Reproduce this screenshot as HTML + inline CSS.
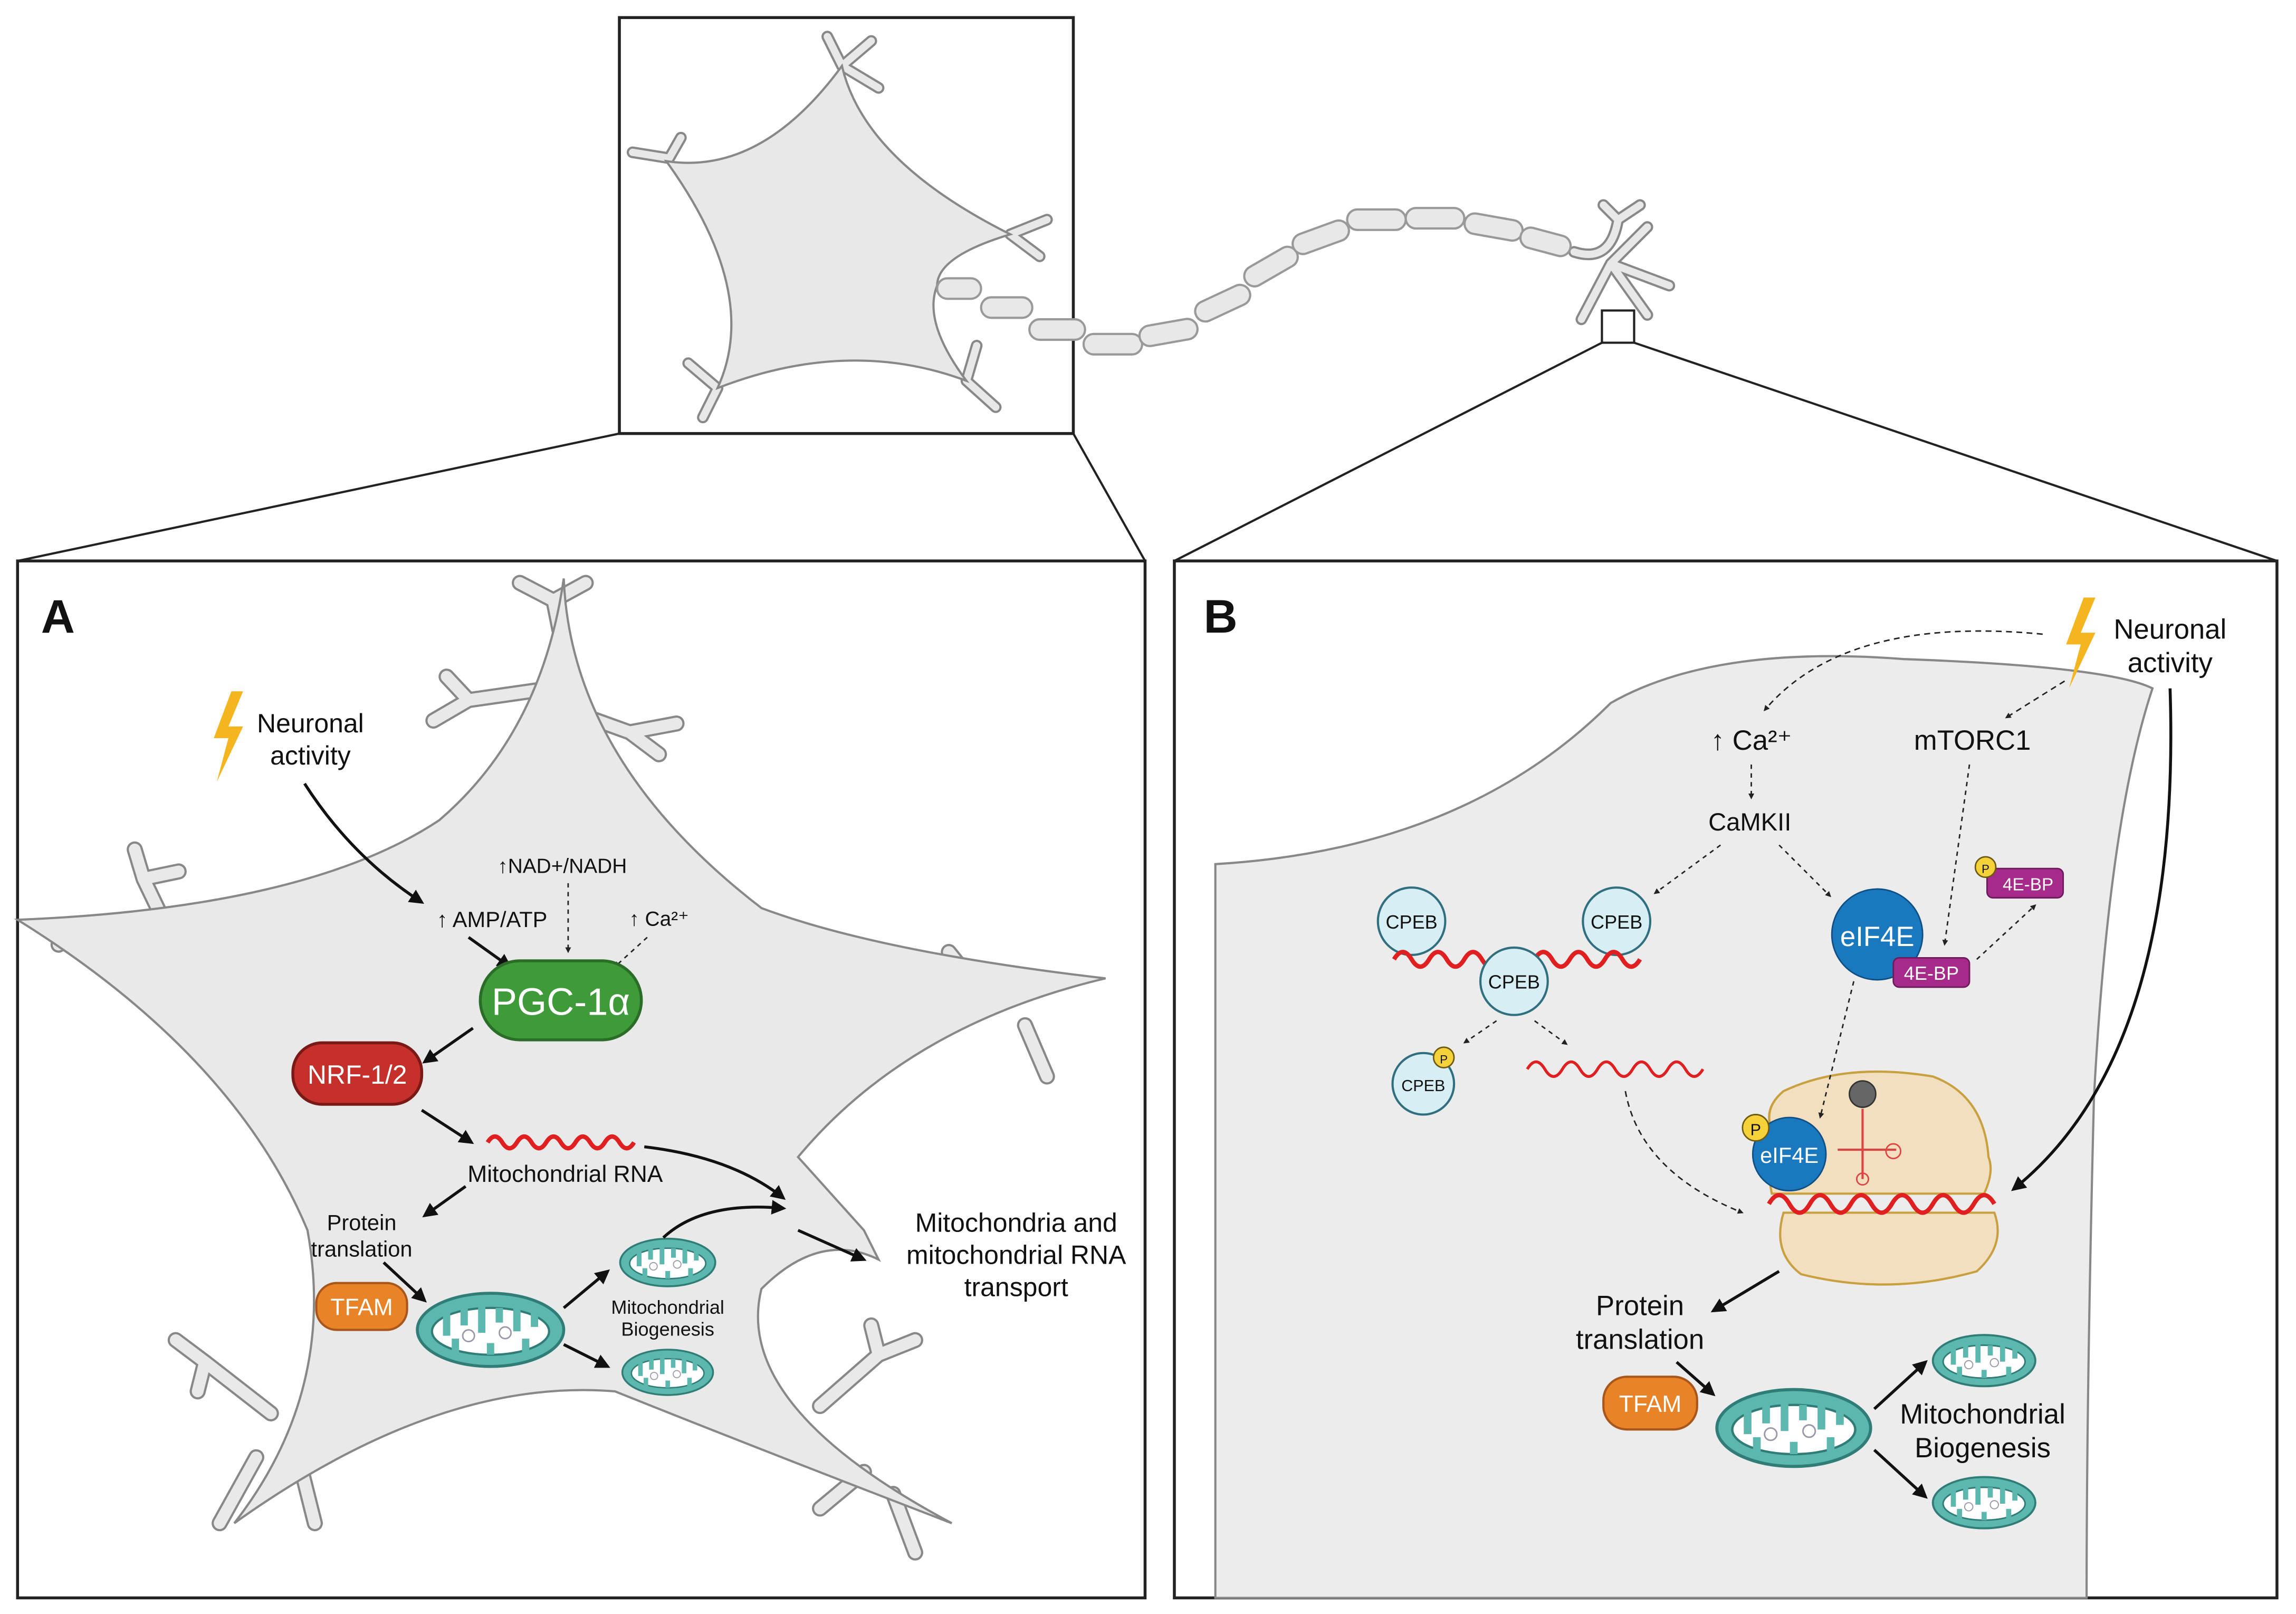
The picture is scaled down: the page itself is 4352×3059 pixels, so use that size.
<!DOCTYPE html>
<html><head><meta charset="utf-8"><style>
html,body{margin:0;padding:0;background:#fff}
svg{display:block}
text{font-family:"Liberation Sans",sans-serif;fill:#111}
</style></head><body>
<svg width="4352" height="3059" viewBox="0 0 1568 1102" preserveAspectRatio="none" xmlns="http://www.w3.org/2000/svg">
<defs>
<marker id="ah" viewBox="0 0 10 10" refX="8" refY="5" markerWidth="5" markerHeight="5" orient="auto"><path d="M0,0L10,5L0,10z" fill="#111"/></marker>
<marker id="ahs" viewBox="0 0 10 10" refX="8" refY="5" markerWidth="4" markerHeight="4" orient="auto"><path d="M0,0L10,5L0,10z" fill="#222"/></marker>
<g id="mito">
<ellipse cx="0" cy="0" rx="50" ry="25" fill="#5cb8ae" stroke="#2f7d76" stroke-width="2"/>
<ellipse cx="0" cy="1" rx="40" ry="16" fill="#fff" stroke="#2f7d76" stroke-width="1.5"/>
<path d="M-30,-14v18M-18,-15v12M-6,-16v18M6,-15v10M18,-15v16M30,-14v12M-24,16v-10M0,17v-8M24,16v-10" stroke="#5cb8ae" stroke-width="5"/>
<circle cx="-15" cy="4" r="4" fill="#fff" stroke="#99a" /><circle cx="10" cy="2" r="4" fill="#fff" stroke="#99a"/>
</g>
<path id="wave" d="M0,0 q5,-8 10,0 t10,0 t10,0 t10,0 t10,0 t10,0 t10,0 t10,0 t10,0 t10,0" fill="none" stroke="#e02020" stroke-width="3"/>
<path id="brA" d="M382,430 L378,410 L355,398 M378,410 L400,398 M376,470 L320,478 L296,492 M320,478 L305,462 M380,482 L430,500 L462,494 M430,500 L450,515
 M110,625 L98,600 L92,580 M98,600 L122,595 M60,630 L40,645 M150,640 L140,660 M170,650 L210,680 L230,700
 M185,965 L140,930 L120,915 M140,930 L135,950 M175,995 L150,1040 M205,1000 L215,1040
 M560,960 L600,925 L625,915 M600,925 L595,905 M590,1005 L560,1030 M610,1020 L625,1060
 M690,680 L660,665 L648,650 M700,700 L715,735 M640,700 L620,715"/>
<path id="brT" d="M575,45 L565,25 M575,45 L595,28 M575,45 L600,60 M457,108 L432,104 M457,108 L465,94 M690,160 L715,150 M690,160 L710,175 M490,265 L480,285 M490,265 L470,248 M660,260 L680,278 M660,260 L667,236 M1100,180 L1125,155 M1100,180 L1140,195 M1100,180 L1080,218 M1100,180 L1125,215 M1105,150 L1095,140 M1105,150 L1120,140 M1075,172 Q1100,180 1105,150"/>
</defs>

<!-- top neuron box -->
<rect x="423" y="12" width="310" height="284" fill="#fff" stroke="#222" stroke-width="2"/>
<use href="#brT" stroke="#888" stroke-width="8" fill="none" stroke-linecap="round"/>
<use href="#brT" stroke="#e8e8e8" stroke-width="5" fill="none" stroke-linecap="round"/>
<path d="M455,110 Q520,120 575,45 Q590,110 690,160 Q640,175 640,195 Q630,220 660,260 Q580,230 490,265 Q520,200 455,110Z" fill="#e8e8e8" stroke="#888" stroke-width="1.5"/>
<g fill="#e8e8e8" stroke="#999" stroke-width="1.5">
<rect x="640" y="190" width="30" height="14" rx="7"/><rect x="670" y="203" width="35" height="14" rx="7"/><rect x="703" y="218" width="38" height="14" rx="7"/><rect x="740" y="228" width="40" height="14" rx="7"/><rect x="778" y="220" width="40" height="14" rx="7" transform="rotate(-10 798 227)"/><rect x="815" y="200" width="40" height="14" rx="7" transform="rotate(-25 835 207)"/><rect x="848" y="175" width="40" height="14" rx="7" transform="rotate(-30 868 182)"/><rect x="882" y="155" width="40" height="14" rx="7" transform="rotate(-20 902 162)"/><rect x="920" y="143" width="40" height="14" rx="7"/><rect x="960" y="142" width="40" height="14" rx="7"/><rect x="1000" y="148" width="40" height="14" rx="7" transform="rotate(10 1020 155)"/><rect x="1038" y="158" width="35" height="14" rx="7" transform="rotate(15 1055 165)"/>
</g>
<rect x="1094" y="212" width="22" height="22" fill="none" stroke="#222" stroke-width="1.5"/>

<!-- zoom lines -->
<path d="M423,296L12,383M733,296L782,383M1094,234L802,383M1116,234L1555,383" stroke="#222" stroke-width="1.5"/>

<!-- Panel A -->
<rect x="12" y="383" width="770" height="708" fill="#fff" stroke="#222" stroke-width="2"/>
<use href="#brA" stroke="#888" stroke-width="11" fill="none" stroke-linecap="round" stroke-linejoin="round"/>
<use href="#brA" stroke="#e9e9e9" stroke-width="8" fill="none" stroke-linecap="round" stroke-linejoin="round"/>
<path d="M385,395 Q390,520 520,620 Q600,650 755,668 Q620,700 545,790 L590,840 L600,860 Q560,840 520,880 Q500,960 650,1040 Q520,990 420,950 Q300,940 160,1040 Q230,950 210,840 Q160,720 12,628 Q210,620 300,560 Q370,500 385,395Z" fill="#e9e9e9" stroke="#888" stroke-width="1.5"/>
<text x="28" y="432" font-size="32" font-weight="bold">A</text>
<path d="M158,472 l-12,32 h10 l-8,30 l18,-38 h-10 l10,-24z" fill="#f5b51e"/>
<text x="212" y="500" font-size="18" text-anchor="middle">Neuronal</text>
<text x="212" y="522" font-size="18" text-anchor="middle">activity</text>
<path d="M208,535 Q240,585 288,616" stroke="#111" stroke-width="2" fill="none" marker-end="url(#ah)"/>
<text x="384" y="596" font-size="14" text-anchor="middle">↑NAD+/NADH</text>
<text x="336" y="633" font-size="15" text-anchor="middle">↑ AMP/ATP</text>
<text x="450" y="632" font-size="14" text-anchor="middle">↑ Ca²⁺</text>
<path d="M388,603 V650" stroke="#222" stroke-dasharray="3,3" marker-end="url(#ahs)"/>
<path d="M442,640 L420,660" stroke="#222" stroke-dasharray="3,3" marker-end="url(#ahs)"/>
<path d="M320,640 L348,660" stroke="#111" stroke-width="2" marker-end="url(#ah)"/>
<rect x="328" y="656" width="110" height="54" rx="27" fill="#3f9b3a" stroke="#2a6d27" stroke-width="2"/>
<text x="383" y="693" font-size="26" text-anchor="middle" style="fill:#fff">PGC-1α</text>
<path d="M323,702 L290,725" stroke="#111" stroke-width="2" marker-end="url(#ah)"/>
<rect x="200" y="712" width="88" height="42" rx="20" fill="#c5302a" stroke="#7a1a17" stroke-width="2"/>
<text x="244" y="740" font-size="18" text-anchor="middle" style="fill:#fff">NRF-1/2</text>
<path d="M288,758 L322,780" stroke="#111" stroke-width="2" marker-end="url(#ah)"/>
<use href="#wave" x="333" y="780"/>
<text x="386" y="807" font-size="16" text-anchor="middle">Mitochondrial RNA</text>
<path d="M440,783 Q500,790 535,818" stroke="#111" stroke-width="2" fill="none" marker-end="url(#ah)"/>
<path d="M318,810 L290,830" stroke="#111" stroke-width="2" marker-end="url(#ah)"/>
<text x="247" y="840" font-size="15" text-anchor="middle">Protein</text>
<text x="247" y="858" font-size="15" text-anchor="middle">translation</text>
<rect x="216" y="876" width="62" height="32" rx="14" fill="#e98327" stroke="#a8561a" stroke-width="1.5"/>
<text x="247" y="898" font-size="16" text-anchor="middle" style="fill:#fff">TFAM</text>
<path d="M262,862 L290,888" stroke="#111" stroke-width="2" marker-end="url(#ah)"/>
<use href="#mito" transform="translate(335,908)"/>
<path d="M385,893 L415,868" stroke="#111" stroke-width="2" marker-end="url(#ah)"/>
<path d="M385,918 L415,933" stroke="#111" stroke-width="2" marker-end="url(#ah)"/>
<use href="#mito" transform="translate(456,862) scale(0.65)"/>
<use href="#mito" transform="translate(456,937) scale(0.62)"/>
<text x="456" y="897" font-size="13" text-anchor="middle">Mitochondrial</text>
<text x="456" y="912" font-size="13" text-anchor="middle">Biogenesis</text>
<path d="M453,845 Q480,820 535,825" stroke="#111" stroke-width="2" fill="none" marker-end="url(#ah)"/>
<path d="M545,840 L590,860" stroke="#111" stroke-width="2" marker-end="url(#ah)"/>
<text x="694" y="841" font-size="18" text-anchor="middle">Mitochondria and</text>
<text x="694" y="863" font-size="18" text-anchor="middle">mitochondrial RNA</text>
<text x="694" y="885" font-size="18" text-anchor="middle">transport</text>

<!-- Panel B -->
<rect x="802" y="383" width="753" height="708" fill="#fff" stroke="#222" stroke-width="2"/>
<path d="M830,590 Q1000,580 1100,480 Q1170,440 1300,450 Q1440,455 1470,470 Q1440,560 1430,750 Q1425,950 1425,1091 L830,1091Z" fill="#ececec" stroke="#888" stroke-width="1.5"/>
<text x="822" y="432" font-size="32" font-weight="bold">B</text>
<path d="M1423,408 l-12,32 h10 l-8,30 l18,-38 h-10 l10,-24z" fill="#f5b51e"/>
<text x="1482" y="436" font-size="19" text-anchor="middle">Neuronal</text>
<text x="1482" y="459" font-size="19" text-anchor="middle">activity</text>
<path d="M1395,433 Q1260,420 1205,485" stroke="#222" fill="none" stroke-dasharray="4,3" marker-end="url(#ahs)"/>
<path d="M1410,465 L1370,490" stroke="#222" stroke-dasharray="4,3" marker-end="url(#ahs)"/>
<path d="M1482,470 Q1490,720 1375,812" stroke="#111" stroke-width="2" fill="none" marker-end="url(#ah)"/>
<text x="1196" y="512" font-size="19" text-anchor="middle">↑ Ca²⁺</text>
<text x="1347" y="512" font-size="19" text-anchor="middle">mTORC1</text>
<path d="M1196,522 V545" stroke="#222" stroke-dasharray="3,3" marker-end="url(#ahs)"/>
<text x="1195" y="567" font-size="17" text-anchor="middle">CaMKII</text>
<path d="M1175,577 L1130,610" stroke="#222" stroke-dasharray="3,3" marker-end="url(#ahs)"/>
<path d="M1215,577 L1250,612" stroke="#222" stroke-dasharray="3,3" marker-end="url(#ahs)"/>
<path d="M1345,522 L1328,645" stroke="#222" stroke-dasharray="3,3" marker-end="url(#ahs)"/>
<g fill="#d8eef5" stroke="#2f6f7f" stroke-width="1.5">
<circle cx="964" cy="629" r="23"/><circle cx="1104" cy="629" r="23"/>
</g>
<path d="M952,655 q6,-10 12,0 t12,0 t12,0 t12,0 t12,0 t12,0 t12,0 t12,0 t12,0 t12,0 t12,0 t12,0 t12,0 t12,0" fill="none" stroke="#e02020" stroke-width="3"/>
<circle cx="1034" cy="670" r="23" fill="#d8eef5" stroke="#2f6f7f" stroke-width="1.5"/>
<text x="964" y="634" font-size="13" text-anchor="middle">CPEB</text>
<text x="1104" y="634" font-size="13" text-anchor="middle">CPEB</text>
<text x="1034" y="675" font-size="13" text-anchor="middle">CPEB</text>
<path d="M1022,697 L1000,712" stroke="#222" stroke-dasharray="3,3" marker-end="url(#ahs)"/>
<path d="M1048,697 L1070,713" stroke="#222" stroke-dasharray="3,3" marker-end="url(#ahs)"/>
<circle cx="972" cy="740" r="21" fill="#d8eef5" stroke="#2f6f7f" stroke-width="1.5"/>
<text x="972" y="745" font-size="11" text-anchor="middle">CPEB</text>
<circle cx="986" cy="722" r="7" fill="#f5d23a" stroke="#6d5a10"/><text x="986" y="726" font-size="8" text-anchor="middle">P</text>
<path d="M1043,730 q6,-10 12,0 t12,0 t12,0 t12,0 t12,0 t12,0 t12,0 t12,0 t12,0 t12,0" fill="none" stroke="#e02020" stroke-width="2"/>
<path d="M1110,745 Q1120,800 1190,828" stroke="#222" fill="none" stroke-dasharray="4,3" marker-end="url(#ahs)"/>
<circle cx="1282" cy="638" r="31" fill="#1a78be" stroke="#0f4f85"/>
<text x="1282" y="646" font-size="19" text-anchor="middle" style="fill:#fff">eIF4E</text>
<rect x="1293" y="654" width="52" height="20" rx="4" fill="#a52a8a" stroke="#6d1a5a"/>
<text x="1319" y="669" font-size="13" text-anchor="middle" style="fill:#fff">4E-BP</text>
<path d="M1350,655 L1390,618" stroke="#222" stroke-dasharray="3,3" marker-end="url(#ahs)"/>
<rect x="1357" y="593" width="52" height="20" rx="4" fill="#a52a8a" stroke="#6d1a5a"/>
<text x="1385" y="608" font-size="12" text-anchor="middle" style="fill:#fff">4E-BP</text>
<circle cx="1356" cy="592" r="7" fill="#f5d23a" stroke="#6d5a10"/><text x="1356" y="596" font-size="8" text-anchor="middle">P</text>
<path d="M1218,745 Q1260,725 1320,735 Q1355,748 1358,790 Q1362,800 1355,815 L1210,815 Q1205,790 1215,780 Q1200,760 1218,745Z" fill="#f2dfbf" stroke="#c9a040" stroke-width="1.5"/>
<path d="M1218,828 L1362,828 Q1370,850 1350,868 Q1290,885 1230,870 Q1210,855 1218,828Z" fill="#f2dfbf" stroke="#c9a040" stroke-width="1.5"/>
<circle cx="1272" cy="747" r="9" fill="#666" stroke="#333"/>
<path d="M1272,757 V805 M1255,785 H1295" stroke="#d44" stroke-width="1.5"/><circle cx="1293" cy="786" r="5" fill="none" stroke="#d44"/><circle cx="1272" cy="805" r="4" fill="none" stroke="#d44"/>
<path d="M1266,670 L1243,763" stroke="#222" stroke-dasharray="3,3" marker-end="url(#ahs)"/>
<circle cx="1222" cy="788" r="25" fill="#1a78be" stroke="#0f4f85"/>
<text x="1222" y="794" font-size="15" text-anchor="middle" style="fill:#fff">eIF4E</text>
<circle cx="1199" cy="770" r="9" fill="#f5d23a" stroke="#6d5a10"/><text x="1199" y="775" font-size="11" text-anchor="middle">P</text>
<path d="M1208,822 q7,-12 14,0 t14,0 t14,0 t14,0 t14,0 t14,0 t14,0 t14,0 t14,0 t14,0 t14,0" fill="none" stroke="#e02020" stroke-width="3"/>
<path d="M1215,868 L1170,895" stroke="#111" stroke-width="2" marker-end="url(#ah)"/>
<text x="1120" y="898" font-size="19" text-anchor="middle">Protein</text>
<text x="1120" y="921" font-size="19" text-anchor="middle">translation</text>
<rect x="1095" y="940" width="64" height="36" rx="16" fill="#e98327" stroke="#a8561a" stroke-width="1.5"/>
<text x="1127" y="964" font-size="16" text-anchor="middle" style="fill:#fff">TFAM</text>
<path d="M1145,930 L1170,952" stroke="#111" stroke-width="2" marker-end="url(#ah)"/>
<use href="#mito" transform="translate(1225,975) scale(1.05)"/>
<path d="M1280,962 L1315,930" stroke="#111" stroke-width="2" marker-end="url(#ah)"/>
<path d="M1280,990 L1315,1022" stroke="#111" stroke-width="2" marker-end="url(#ah)"/>
<use href="#mito" transform="translate(1355,929) scale(0.7)"/>
<use href="#mito" transform="translate(1355,1026) scale(0.7)"/>
<text x="1354" y="972" font-size="19" text-anchor="middle">Mitochondrial</text>
<text x="1354" y="995" font-size="19" text-anchor="middle">Biogenesis</text>
</svg>
</body></html>
